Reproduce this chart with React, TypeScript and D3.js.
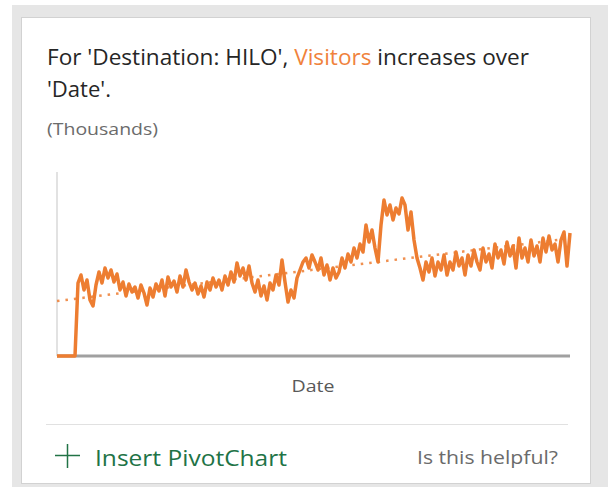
import React from "react";
import * as d3 from "d3";

// visitors per day (thousands)
const visitors = [
  0, 0, 0, 0, 0, 0, 0, 1.46, 1.62, 1.32, 1.52, 1.12, 1.0, 1.42, 1.68, 1.46, 1.76,
  1.56, 1.72, 1.48, 1.64, 1.32, 1.48, 1.2, 1.44, 1.28, 1.38,
  1.16, 1.42, 1.26, 1.02, 1.36, 1.18, 1.44, 1.3, 1.52, 1.2,
  1.58, 1.38, 1.5, 1.28, 1.6, 1.38, 1.72, 1.48, 1.32, 1.46,
  1.24, 1.4, 1.18, 1.48, 1.32, 1.56, 1.38, 1.52, 1.32, 1.6,
  1.42, 1.68, 1.48, 1.86, 1.6, 1.76, 1.52, 1.8, 1.46, 1.28,
  1.52, 1.2, 1.4, 1.12, 1.46, 1.32, 1.62, 1.42, 1.92, 1.48,
  1.08, 1.32, 1.16, 1.56, 1.72, 1.88, 1.96, 1.76, 2.02, 1.88,
  1.72, 1.96, 1.62, 1.82, 1.52, 1.76, 1.56, 1.68, 1.96, 1.76,
  2.04, 1.88, 2.16, 1.96, 2.24, 2.08, 2.62, 2.28, 2.52, 2.16,
  1.88, 2.62, 3.12, 2.82, 3.02, 2.72, 2.96, 2.84, 3.16, 3.02,
  2.52, 2.88, 2.32, 1.96, 1.76, 1.52, 1.88, 1.68, 1.96, 1.6,
  1.88, 1.72, 2.02, 1.62, 1.88, 1.72, 2.08, 1.8, 1.96, 1.62,
  2.02, 1.8, 2.12, 1.88, 1.72, 2.16, 1.88, 2.04, 1.76, 2.24,
  1.96, 2.12, 1.84, 2.28, 2.0, 2.2, 1.76, 2.36, 1.96, 2.16,
  1.88, 2.32, 2.0, 2.2, 1.88, 2.36, 2.08, 2.4, 2.12, 2.24,
  1.88, 2.32, 2.48, 1.8, 2.46,
];
const startDate = new Date(2016, 0, 1);
const trendEnds = [1.1, 2.35]; // dotted trendline at first / last date

const W = 608;
const H = 487;
const plot = { left: 57, right: 570, top: 172, bottom: 356 };

export default function App() {
  const data = visitors.map((v, i) => ({ date: d3.timeDay.offset(startDate, i), v }));
  const x = d3
    .scaleTime()
    .domain(d3.extent(data, (d) => d.date) as [Date, Date])
    .range([plot.left, plot.right]);
  const y = d3.scaleLinear().domain([0, 3.68]).range([plot.bottom, plot.top]);

  const line = d3
    .line<{ date: Date; v: number }>()
    .x((d) => x(d.date))
    .y((d) => y(d.v));

  const last = data[data.length - 1].date;
  const trend = [
    { date: startDate, v: trendEnds[0] },
    { date: last, v: trendEnds[1] },
  ];

  const font = "'Segoe UI', 'Open Sans', sans-serif";

  return (
    <div style={{ position: "absolute", left: 0, top: 0 }}>
      <svg width={W} height={H} style={{ display: "block", fontFamily: font }}>
        <rect x={0} y={0} width={W} height={H} fill="#fff" />
        <rect x={12} y={5} width={W - 12} height={H - 5} fill="#e6e6e6" />
        <rect x={21.5} y={17.5} width={569} height={466} fill="#fff" stroke="#d2d2d2" />

        <text x={47} y={65} fontSize={21} fill="#262626" textLength={482} lengthAdjust="spacingAndGlyphs">
          For 'Destination: HILO', <tspan fill="#f0823c">Visitors</tspan> increases over
        </text>
        <text x={47} y={97} fontSize={21} fill="#262626" textLength={64} lengthAdjust="spacingAndGlyphs">
          'Date'.
        </text>
        <text x={47} y={135} fontSize={16} fill="#6b6b6b" textLength={111} lengthAdjust="spacingAndGlyphs">
          (Thousands)
        </text>

        {/* axes */}
        <line x1={plot.left} x2={plot.left} y1={plot.top} y2={plot.bottom} stroke="#d9d9d9" strokeWidth={1.5} />

        <path
          d={line(trend) || ""}
          fill="none"
          stroke="#ed7d31"
          strokeWidth={2.5}
          strokeDasharray="2.5 6"
          opacity={0.85}
        />
        <line x1={plot.left} x2={plot.right} y1={plot.bottom} y2={plot.bottom} stroke="#a0a0a0" strokeWidth={3} />
        <path d={line(data) || ""} fill="none" stroke="#ed7d31" strokeWidth={3.5} strokeLinejoin="round" />

        <text x={313} y={392} textAnchor="middle" fontSize={17} fill="#595959" textLength={43} lengthAdjust="spacingAndGlyphs">
          Date
        </text>

        <line x1={46} x2={568} y1={424.5} y2={424.5} stroke="#e1e1e1" />

        <line x1={55} x2={80} y1={455.5} y2={455.5} stroke="#217346" strokeWidth={1.5} />
        <line x1={67.5} x2={67.5} y1={444} y2={468} stroke="#217346" strokeWidth={1.5} />
        <text x={95} y={466} fontSize={22} fill="#217346" textLength={192} lengthAdjust="spacingAndGlyphs">
          Insert PivotChart
        </text>
        <text x={417} y={464} fontSize={18} fill="#6b6b6b" textLength={141} lengthAdjust="spacingAndGlyphs">
          Is this helpful?
        </text>
      </svg>
    </div>
  );
}
